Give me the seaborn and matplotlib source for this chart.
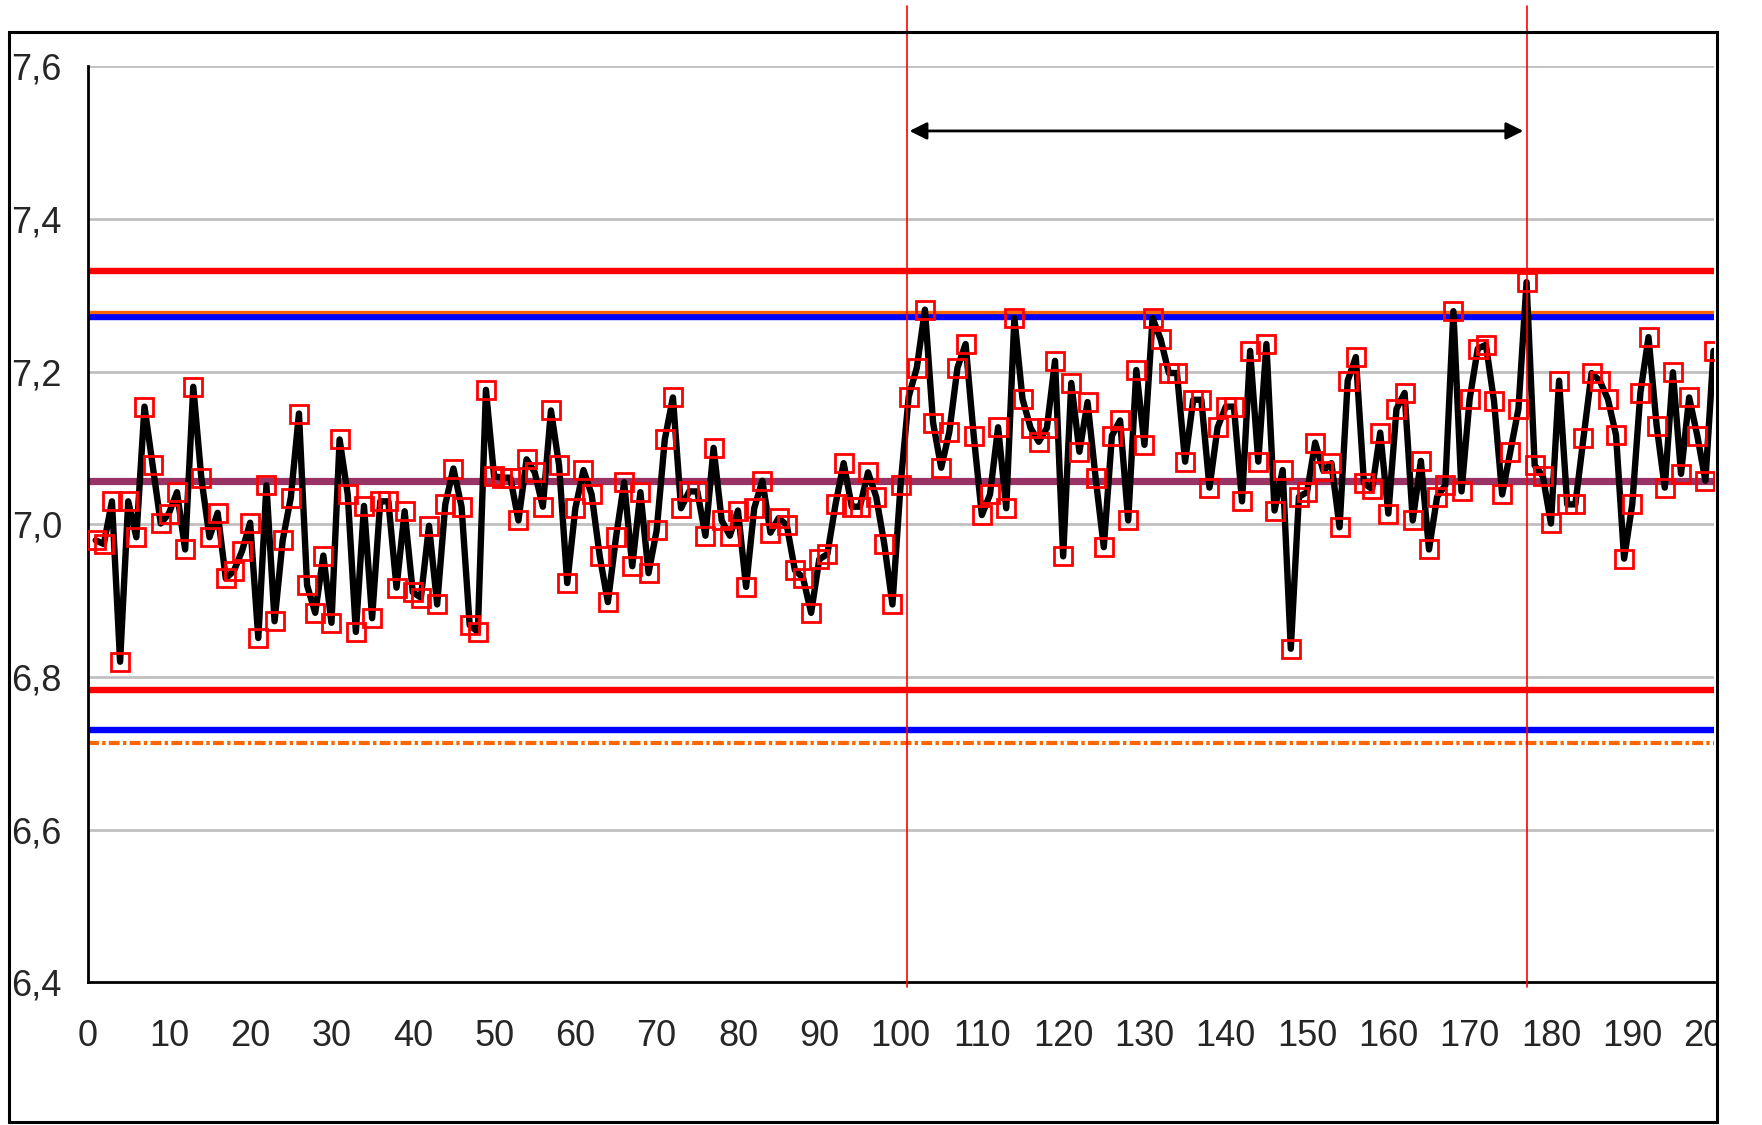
import numpy as np
import pandas as pd
import matplotlib
matplotlib.use("Agg")
import matplotlib.pyplot as plt
import seaborn as sns
from matplotlib.patches import Rectangle

# ---- data ----
values = [
    6.979, 6.974, 7.030, 6.820, 7.030, 6.983, 7.154, 7.077, 7.001, 7.014,
    7.042, 6.967, 7.180, 7.060, 6.983, 7.015, 6.929, 6.939, 6.965, 7.002,
    6.851, 7.051, 6.873, 6.979, 7.035, 7.145, 6.920, 6.884, 6.959, 6.871,
    7.111, 7.039, 6.859, 7.024, 6.877, 7.030, 7.030, 6.917, 7.017, 6.911,
    6.904, 6.998, 6.895, 7.026, 7.073, 7.023, 6.868, 6.859, 7.176, 7.063,
    7.061, 7.061, 7.005, 7.085, 7.068, 7.023, 7.149, 7.077, 6.923, 7.021,
    7.071, 7.039, 6.958, 6.898, 6.983, 7.055, 6.945, 7.042, 6.936, 6.992,
    7.111, 7.166, 7.021, 7.043, 7.043, 6.985, 7.100, 7.005, 6.985, 7.018,
    6.918, 7.021, 7.057, 6.989, 7.008, 6.999, 6.940, 6.930, 6.884, 6.954,
    6.961, 7.026, 7.080, 7.023, 7.023, 7.068, 7.036, 6.974, 6.895, 7.051,
    7.167, 7.205, 7.281, 7.133, 7.074, 7.121, 7.205, 7.236, 7.116, 7.012,
    7.039, 7.127, 7.021, 7.270, 7.164, 7.126, 7.108, 7.126, 7.214, 6.958,
    7.185, 7.095, 7.160, 7.060, 6.970, 7.116, 7.136, 7.005, 7.202, 7.104,
    7.270, 7.242, 7.198, 7.198, 7.082, 7.163, 7.163, 7.048, 7.127, 7.154,
    7.154, 7.030, 7.227, 7.082, 7.236, 7.018, 7.071, 6.837, 7.036, 7.042,
    7.107, 7.070, 7.080, 6.996, 7.188, 7.219, 7.054, 7.046, 7.120, 7.014,
    7.151, 7.172, 7.005, 7.083, 6.967, 7.036, 7.051, 7.279, 7.043, 7.164,
    7.230, 7.235, 7.161, 7.039, 7.095, 7.151, 7.317, 7.077, 7.063, 7.001,
    7.188, 7.026, 7.026, 7.113, 7.198, 7.188, 7.164, 7.117, 6.955, 7.026,
    7.172, 7.245, 7.129, 7.048, 7.199, 7.066, 7.166, 7.116, 7.057, 7.227,
]
sample_no = np.arange(1, len(values) + 1)

center_line = 7.057
ucl_red, lcl_red = 7.332, 6.783
ucl_blue, lcl_blue = 7.272, 6.731
ucl_orange, lcl_orange = 7.278, 6.713
shift_start, shift_end = 100.8, 177.1
arrow_level = 7.515

x_ticks = list(range(0, 201, 10))
y_ticks = [6.4, 6.6, 6.8, 7.0, 7.2, 7.4, 7.6]
y_tick_labels = ["6,4", "6,6", "6,8", "7,0", "7,2", "7,4", "7,6"]

df = pd.DataFrame({"n": sample_no, "ph": values})

sns.set_style("white")
plt.rcParams["font.family"] = ["Liberation Sans", "DejaVu Sans"]

fig = plt.figure(figsize=(17.62, 11.25), dpi=100)
ax = fig.add_axes([0.0497, 0.1267, 0.9228, 0.8146])

# grid
for yv in y_ticks[1:]:
    ax.axhline(yv, color="#c0c0c0", lw=2.0, zorder=1)

# control limits
ax.axhline(ucl_red, color="#ff0000", lw=4.6, zorder=2)
ax.axhline(lcl_red, color="#ff0000", lw=4.6, zorder=2)
ax.axhline(ucl_blue, color="#0000ff", lw=4.6, zorder=2)
ax.axhline(lcl_blue, color="#0000ff", lw=4.6, zorder=2)
ax.axhline(ucl_orange, color="#ff6600", lw=2.4, zorder=2)
ax.axhline(lcl_orange, color="#ff6600", lw=3.0, ls=(0, (2.6, 0.8, 0.8, 0.8)), zorder=2)
ax.axhline(center_line, color="#993366", lw=5.2, zorder=2)

sns.lineplot(data=df, x="n", y="ph", ax=ax, color="black", lw=4.6,
             marker="s", markersize=12.5, markerfacecolor="none",
             markeredgecolor="#ff0000", markeredgewidth=2.0, zorder=4)

# shift window
for xv in (shift_start, shift_end):
    ax.plot([xv, xv], [6.394, 7.678], color="#ff0000", lw=1.2, zorder=5, clip_on=False)
ax.annotate("", xy=(shift_start + 0.3, arrow_level), xytext=(shift_end - 0.5, arrow_level),
            arrowprops=dict(arrowstyle="<|-|>", color="black", lw=2.0,
                            mutation_scale=26, shrinkA=0, shrinkB=0), zorder=5)

ax.set_xlim(0, 200)
ax.set_ylim(6.4, 7.6)
ax.set_xticks(x_ticks)
ax.set_yticks(y_ticks)
ax.set_yticklabels(y_tick_labels)
ax.set_xlabel("")
ax.set_ylabel("")
ax.tick_params(axis="both", direction="out", labelsize=26, width=2.2, color="black")
ax.tick_params(axis="x", length=9, pad=17)
ax.tick_params(axis="y", length=7.5, pad=11)
for s in ("top", "right"):
    ax.spines[s].set_visible(False)
for s in ("left", "bottom"):
    ax.spines[s].set_linewidth(2.0)
    ax.spines[s].set_color("black")

# white mask right of the outer frame, then the frame itself
fig.add_artist(Rectangle((0.9745, 0), 0.03, 1, transform=fig.transFigure,
                         facecolor="white", edgecolor="none", zorder=10))
fig.add_artist(Rectangle((0.0051, 0.0027), 0.9694, 0.9689, transform=fig.transFigure,
                         fill=False, edgecolor="black", lw=2.2, zorder=11))

fig.savefig("out.png", dpi=100)
